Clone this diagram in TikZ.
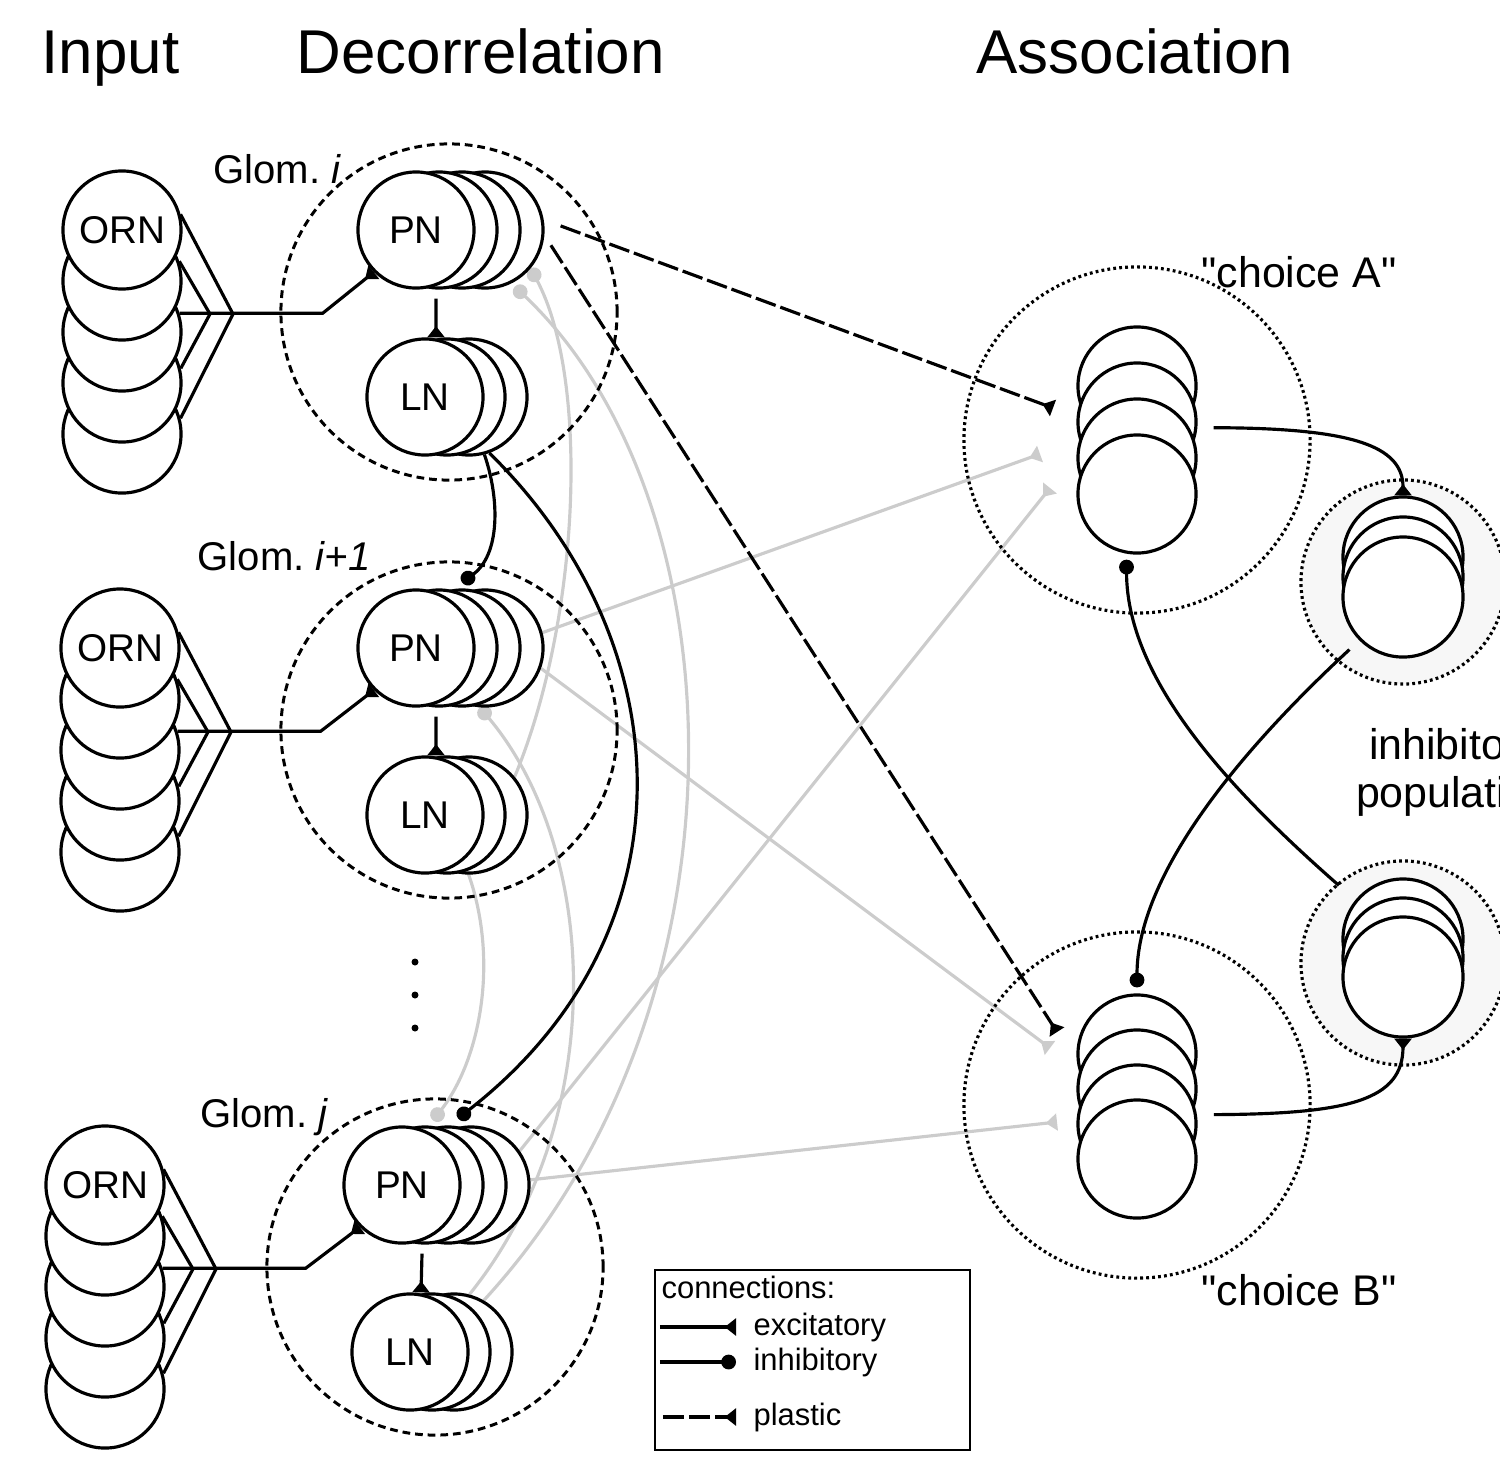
\documentclass[tikz,border=0pt]{standalone}
\usepackage{fontspec}
\setmainfont{Liberation Sans}
\newfontfamily\plainsans{Liberation Sans}
\usetikzlibrary{arrows.meta,backgrounds}

\tikzset{
  cell/.style={circle,draw,fill=white,line width=0.9pt,minimum size=1.16cm,inner sep=0pt,font=\fontsize{11}{13}\selectfont},
  ring/.style={circle,draw,line width=0.85pt,dash pattern=on 2.2pt off 1.4pt,minimum size=3.36cm},
  pool/.style={circle,draw,line width=0.9pt,dash pattern=on 0.8pt off 0.9pt},
  exc/.style={-{Triangle[reversed,length=3.2pt,width=4.8pt]}},
  inh/.style={-{Circle[length=4.2pt]}},
  plast/.style={exc,dash pattern=on 6pt off 1.4pt},
  faded/.style={draw=black!20,line width=0.9pt},
  head/.style={font=\fontsize{17.6}{20}\selectfont,inner sep=0pt},
  lbl/.style={font=\fontsize{11.4}{13}\selectfont,inner sep=0pt},
  big/.style={font=\plainsans\fontsize{12.2}{13.7}\selectfont,inner sep=0pt},
  leg/.style={font=\fontsize{8.8}{10}\selectfont,inner sep=0pt}
}

\begin{document}
\begin{tikzpicture}[x=0.01cm,y=-0.01cm,line width=0.9pt]
\useasboundingbox (0,0) rectangle (1500,1457);
\clip (0,0) rectangle (1500,1457);

% headings
\node[head,anchor=base west] (tin) at (40,73) {Input};
\node[head,anchor=base west] (tdec) at (295,73) {Decorrelation};
\node[head,anchor=base west] (tass) at (975,73) {Association};

% glomeruli: ORN stack, PN stack, LN stack
\foreach \g/\ox/\oy/\px/\lx/\tx/\ty/\lab in {a/122/230/416/425/343/183/i, b/120/648/416/425/372/570/{i+1}, c/105/1185/402/410/330/1127/j}{
  \node[ring] (G\g) at (\px+33,\oy+82) {};
  \node[lbl,anchor=base east] (T\g) at (\tx,\ty) {Glom.~\textit{\lab}};
  \foreach \k in {4,...,1} \node[cell,minimum size=1.18cm] (ORN\g\k) at (\ox,\oy+51*\k) {};
  \node[cell,minimum size=1.18cm] (ORN\g0) at (\ox,\oy) {ORN};
  \foreach \k in {3,...,1} \node[cell] (PN\g\k) at (\px+23*\k,\oy) {};
  \node[cell] (PN\g) at (\px,\oy) {PN};
  \foreach \k in {2,1} \node[cell] (LN\g\k) at (\lx+22*\k,\oy+167) {};
  \node[cell] (LN\g) at (\lx,\oy+167) {LN};
  \coordinate (F\g) at (\ox+111,\oy+84);
  \draw (ORN\g0.15) -- (F\g) -- (ORN\g4.15);
  \draw (ORN\g1.19) -- ([xshift=-0.23cm]F\g) -- (ORN\g3.14);
  \draw[exc] (ORN\g2.18) -- ++(143,0) -- (PN\g.225);
  \draw[exc] ([xshift=0.2cm,yshift=-0.09cm]PN\g.south) -- ([xshift=0.11cm]LN\g.north);
}
\foreach \d in {962,995,1028} \fill (415,\d) circle (3.5);

% association populations
\node[pool,fill=black!3,minimum size=2.04cm] (RIA) at (1403,582) {};
\node[pool,fill=black!3,minimum size=2.04cm] (RIB) at (1403,963) {};
\node[pool,minimum size=3.46cm] (RA) at (1137,440) {};
\node[pool,minimum size=3.46cm] (RB) at (1137,1105) {};
\foreach \k in {3,...,0} \node[cell,minimum size=1.18cm] (A\k) at (1137,494-36*\k) {};
\foreach \k in {3,...,0} \node[cell,minimum size=1.18cm] (B\k) at (1137,1159-35*\k) {};
\foreach \k in {2,...,0} \node[cell,minimum size=1.2cm] (IA\k) at (1403,597-20*\k) {};
\foreach \k in {2,...,0} \node[cell,minimum size=1.2cm] (IB\k) at (1403,977-19*\k) {};
\node[big,anchor=base west] (tA) at (1200,287) {"choice A"};
\node[big,anchor=base west] (tB) at (1200,1305) {"choice B"};
\node[big,align=center] (tI) at (1455,772) {inhibitory\\population};

% input ports
\coordinate (Ap1) at (1053,408);
\coordinate (Ap2) at (1040,454);
\coordinate (Ap3) at (1050,488);
\coordinate (Bp1) at (1057,1032);
\coordinate (Bp2) at (1050,1048);
\coordinate (Bp3) at (1057,1122);

% faded connections
\begin{scope}[on background layer]
  \draw[faded,exc] (PNb3.15) -- (Ap2);
  \draw[faded,exc] (PNb3.-20) -- (Bp2);
  \draw[faded,exc] (PNc3.35) -- (Ap3);
  \draw[faded,exc] (PNc3.5) -- (Bp3);
  \draw[faded,inh] (LNc2.60) .. controls (760,1000) and (740,500) .. ([yshift=-0.05cm]PNa3.-60);
  \draw[faded,inh] (LNc2.75) .. controls (610,1120) and (600,850) .. (PNb3.-95);
  \draw[faded,inh] (LNb2.40) .. controls (580,620) and (590,380) .. (PNa3.-40);
  \draw[faded,inh] (LNb1.-70) .. controls (500,960) and (480,1060) .. ([xshift=0.08cm,yshift=0.05cm]PNc1.north);
\end{scope}

% plastic and lateral connections
\draw[plast,shorten <=0.18cm] (PNa3.10) -- (Ap1);
\draw[plast,shorten <=0.12cm] (PNa3.-5) -- (Bp1);
\draw[inh] (LNa2.-75) .. controls (500,500) and (500,555) .. ([yshift=0.06cm]PNb2.north);
\draw[inh] (LNa2.-70) .. controls (680,640) and (700,930) .. ([xshift=0.1cm,yshift=0.07cm]PNc2.north);

% competition
\draw[exc] ([xshift=0.24cm]A1.30) .. controls (1350,428) and (1403,445) .. (IA2.north);
\draw[exc] ([xshift=0.22cm]B2.-25) .. controls (1350,1114) and (1403,1100) .. (IB0.south);
\draw[inh] ([xshift=-0.1cm,yshift=-0.09cm]IA0.225) .. controls (1230,760) and (1137,880) .. ([yshift=0.06cm]B3.north);
\draw[inh] ([xshift=-0.17cm,yshift=0.14cm]IB2.140) .. controls (1230,790) and (1127,680) .. ([yshift=-0.06cm]A0.-100);

% legend
\draw[line width=0.6pt] (655,1270) rectangle (970,1450);
\node[leg,anchor=base west] (lcon) at (660,1298) {connections:};
\node[leg,anchor=west] (lexc) at (752,1327) {excitatory};
\node[leg,anchor=west] (linh) at (752,1362) {inhibitory};
\node[leg,anchor=west] (lpla) at (752,1417) {plastic};
\draw[exc] ([xshift=-0.92cm]lexc.west) -- ([xshift=-0.16cm]lexc.west);
\draw[inh] ([xshift=-0.92cm]linh.west) -- ([xshift=-0.16cm]linh.west);
\draw[plast] ([xshift=-0.89cm]lpla.west) -- ([xshift=-0.16cm]lpla.west);
\end{tikzpicture}
\end{document}
